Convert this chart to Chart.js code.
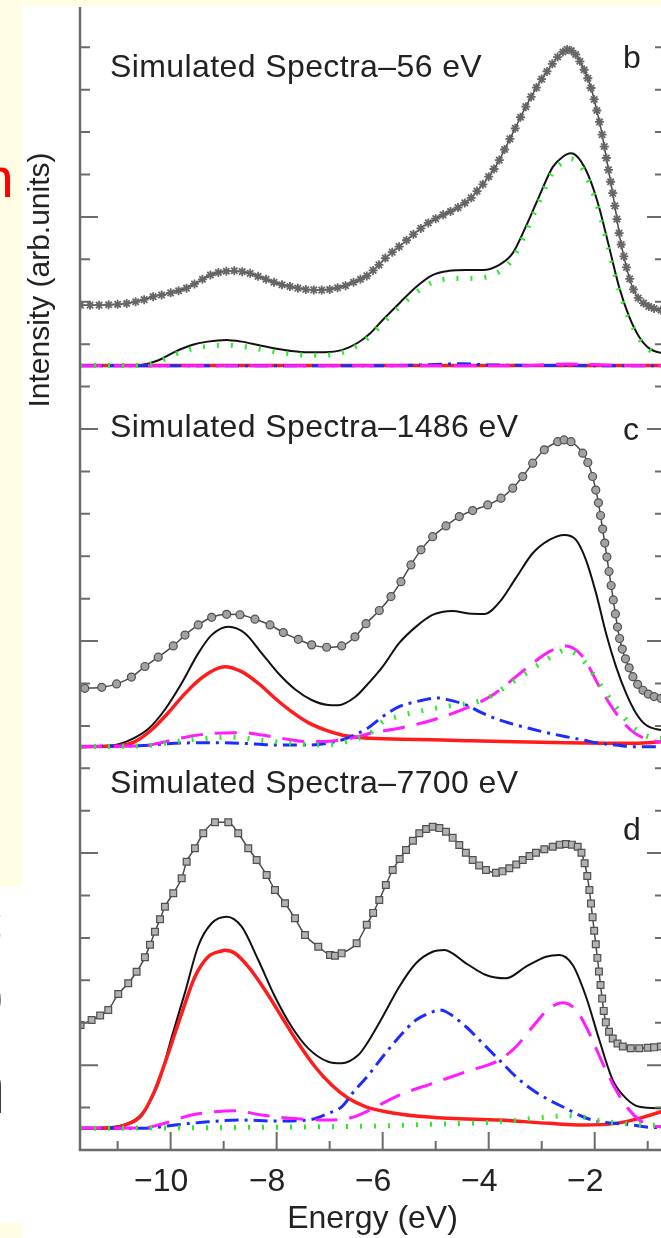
<!DOCTYPE html>
<html>
<head>
<meta charset="utf-8">
<script src="https://cdn.jsdelivr.net/npm/chart.js@4.4.0/dist/chart.umd.min.js"></script>
<style>
  html, body { margin: 0; padding: 0; background: #fff; }
  body { width: 661px; height: 1238px; overflow: hidden; position: relative;
         font-family: "Liberation Sans", Arial, sans-serif; color: #222; }
  #wrap { position: absolute; left: 0; top: 0; width: 680px; height: 1238px; }
  .lbl { position: absolute; white-space: nowrap; line-height: 1; z-index: 3; }
  .title { font-size: 32px; letter-spacing: 0.4px; left: 110px; }
  .tag { font-size: 32px; left: 623px; }
  .band { position: absolute; background: #fffde3; z-index: 2; }
  .ylab { font-size: 30px; line-height: 30px; width: 260px; height: 30px; text-align: center;
          left: -91.4px; top: 265px; transform: rotate(-90deg); }
  .frag { position: absolute; line-height: 1; z-index: 3; }
</style>
</head>
<body>
<div id="wrap"><canvas id="spectra" width="680" height="1238"></canvas></div>

<div class="band" style="left:0;top:0;width:661px;height:6px;"></div>
<div class="band" style="left:0;top:0;width:22px;height:887px;"></div>
<div class="band" style="left:0;top:1223px;width:22px;height:15px;"></div>

<div class="frag" style="left:-17.5px;top:149.6px;font-size:56px;color:#ff0000;">n</div>
<div class="frag" style="left:-35px;top:882px;font-size:76px;color:#d0d0d0;">c</div>
<div class="frag" style="left:-38.5px;top:956px;font-size:76px;color:#111;">o</div>
<div class="frag" style="left:-36.5px;top:1049px;font-size:76px;color:#111;">n</div>

<div class="lbl ylab">Intensity (arb.units)</div>

<div class="lbl title" style="top:49.9px;">Simulated Spectra–56 eV</div>
<div class="lbl title" style="top:409.9px;">Simulated Spectra–1486 eV</div>
<div class="lbl title" style="top:766px;">Simulated Spectra–7700 eV</div>
<div class="lbl tag" style="top:40.9px;">b</div>
<div class="lbl tag" style="top:412.9px;">c</div>
<div class="lbl tag" style="top:812.9px;">d</div>

<script>
// vertical offsets of the three stacked spectra (arb. units)
const offsetB = 16.49;
const offsetC = 7.51;
const offsetD = -1.49;

const xTickValues = [-10, -8, -6, -4, -2];

// ---- panel b : 56 eV ----
const bGray = [[-11.70,1.43],[-11.52,1.43],[-11.35,1.43],[-11.17,1.44],[-11.00,1.45],[-10.83,1.47],[-10.66,1.51],[-10.50,1.56],[-10.33,1.63],[-10.17,1.67],[-10.00,1.72],[-9.85,1.77],[-9.70,1.83],[-9.55,1.93],[-9.40,2.04],[-9.25,2.14],[-9.10,2.20],[-8.95,2.23],[-8.80,2.24],[-8.65,2.22],[-8.50,2.18],[-8.35,2.11],[-8.20,2.04],[-8.05,1.97],[-7.90,1.91],[-7.75,1.87],[-7.60,1.83],[-7.45,1.80],[-7.30,1.79],[-7.15,1.785],[-7.00,1.80],[-6.85,1.84],[-6.70,1.89],[-6.55,1.97],[-6.42,2.04],[-6.30,2.12],[-6.18,2.25],[-6.07,2.38],[-5.95,2.54],[-5.82,2.68],[-5.69,2.81],[-5.55,2.96],[-5.42,3.10],[-5.28,3.24],[-5.14,3.37],[-5.00,3.47],[-4.86,3.56],[-4.72,3.64],[-4.58,3.73],[-4.45,3.84],[-4.33,3.96],[-4.22,4.12],[-4.11,4.28],[-4.00,4.46],[-3.90,4.64],[-3.80,4.85],[-3.70,5.10],[-3.60,5.35],[-3.50,5.60],[-3.40,5.86],[-3.30,6.11],[-3.20,6.34],[-3.10,6.56],[-3.00,6.76],[-2.90,6.94],[-2.80,7.12],[-2.70,7.28],[-2.60,7.40],[-2.52,7.46],[-2.44,7.43],[-2.36,7.34],[-2.28,7.18],[-2.20,6.98],[-2.13,6.78],[-2.07,6.55],[-2.01,6.28],[-1.96,6.02],[-1.91,5.75],[-1.86,5.45],[-1.82,5.17],[-1.78,4.90],[-1.74,4.62],[-1.70,4.34],[-1.66,4.07],[-1.62,3.77],[-1.58,3.46],[-1.54,3.13],[-1.50,2.86],[-1.45,2.58],[-1.40,2.32],[-1.34,2.05],[-1.27,1.80],[-1.18,1.60],[-1.08,1.48],[-0.98,1.40],[-0.88,1.35],[-0.75,1.31],[-0.64,1.30]];
const bBlack = [[-11.71,0.01],[-10.85,0.01],[-10.55,0.02],[-10.23,0.13],[-9.92,0.33],[-9.60,0.49],[-9.30,0.57],[-8.95,0.61],[-8.66,0.57],[-8.35,0.49],[-8.03,0.41],[-7.72,0.35],[-7.41,0.32],[-7.09,0.32],[-6.77,0.37],[-6.46,0.55],[-6.24,0.76],[-6.00,1.08],[-5.69,1.47],[-5.37,1.86],[-5.06,2.14],[-4.75,2.24],[-4.43,2.26],[-4.11,2.26],[-3.80,2.38],[-3.55,2.65],[-3.30,3.28],[-3.05,3.99],[-2.79,4.69],[-2.60,4.93],[-2.45,5.01],[-2.30,4.89],[-2.11,4.46],[-1.92,3.75],[-1.73,2.81],[-1.54,1.86],[-1.35,1.16],[-1.16,0.68],[-0.97,0.41],[-0.64,0.27]];
const bGreen = [[-11.71,0.01],[-10.55,0.01],[-10.23,0.10],[-9.92,0.27],[-9.60,0.40],[-9.30,0.46],[-8.95,0.49],[-8.66,0.46],[-8.35,0.40],[-8.03,0.33],[-7.72,0.28],[-7.41,0.25],[-7.09,0.25],[-6.77,0.31],[-6.46,0.49],[-6.24,0.70],[-6.00,1.00],[-5.69,1.38],[-5.37,1.73],[-5.06,1.97],[-4.75,2.05],[-4.43,2.06],[-4.11,2.08],[-3.80,2.22],[-3.55,2.52],[-3.30,3.15],[-3.05,3.86],[-2.79,4.57],[-2.60,4.80],[-2.45,4.88],[-2.30,4.77],[-2.11,4.34],[-1.92,3.64],[-1.73,2.71],[-1.54,1.78],[-1.35,1.10],[-1.16,0.64],[-0.97,0.38],[-0.64,0.25]];
const bRed = [[-11.71,0.01],[-8.0,0.01],[-4.0,0.01],[-0.64,0.01]];
const bBlue = [[-11.71,0],[-6.0,0],[-5.0,0.03],[-4.5,0.05],[-4.0,0.02],[-0.64,0]];
const bMagenta = [[-11.71,0],[-3.5,0],[-2.5,0.04],[-1.5,0.01],[-0.64,0]];

// ---- panel c : 1486 eV ----
const cGray = [[-11.62,1.375],[-11.30,1.40],[-11.02,1.48],[-10.74,1.64],[-10.485,1.89],[-10.234,2.11],[-9.951,2.375],[-9.73,2.63],[-9.479,2.87],[-9.226,3.05],[-8.943,3.12],[-8.692,3.11],[-8.409,3.005],[-8.126,2.87],[-7.875,2.69],[-7.592,2.53],[-7.34,2.40],[-7.057,2.344],[-6.774,2.375],[-6.523,2.59],[-6.315,2.90],[-6.064,3.21],[-5.843,3.54],[-5.655,3.89],[-5.466,4.285],[-5.277,4.64],[-5.057,4.95],[-4.806,5.205],[-4.555,5.425],[-4.302,5.566],[-4.019,5.70],[-3.768,5.858],[-3.547,6.094],[-3.358,6.368],[-3.17,6.684],[-2.951,7.0],[-2.698,7.19],[-2.579,7.233],[-2.447,7.19],[-2.226,6.92],[-2.13,6.70],[-2.04,6.37],[-1.98,6.05],[-1.93,5.75],[-1.89,5.45],[-1.85,5.13],[-1.81,4.80],[-1.77,4.47],[-1.73,4.13],[-1.69,3.80],[-1.65,3.46],[-1.61,3.13],[-1.57,2.82],[-1.53,2.55],[-1.48,2.30],[-1.42,2.07],[-1.35,1.86],[-1.28,1.65],[-1.19,1.47],[-1.09,1.33],[-0.99,1.24],[-0.88,1.18],[-0.75,1.14],[-0.62,1.13]];
const cBlack = [[-11.71,0],[-11.05,0.04],[-10.74,0.17],[-10.42,0.42],[-10.11,0.87],[-9.79,1.50],[-9.48,2.20],[-9.23,2.63],[-8.91,2.83],[-8.60,2.675],[-8.28,2.20],[-7.97,1.73],[-7.655,1.354],[-7.34,1.10],[-7.03,0.983],[-6.84,0.975],[-6.52,1.17],[-6.315,1.43],[-6.0,1.887],[-5.69,2.44],[-5.37,2.83],[-5.06,3.106],[-4.68,3.20],[-4.38,3.14],[-4.07,3.13],[-3.80,3.40],[-3.485,3.98],[-3.17,4.56],[-2.857,4.875],[-2.574,4.993],[-2.353,4.875],[-2.164,4.40],[-1.975,3.62],[-1.787,2.675],[-1.598,1.887],[-1.409,1.26],[-1.221,0.79],[-1.032,0.51],[-0.749,0.394],[-0.62,0.38]];
const cRed = [[-11.71,0],[-11.0,0.02],[-10.674,0.12],[-10.358,0.40],[-10.045,0.80],[-9.73,1.25],[-9.415,1.62],[-9.164,1.82],[-8.98,1.887],[-8.66,1.77],[-8.347,1.495],[-8.032,1.142],[-7.717,0.825],[-7.404,0.566],[-7.089,0.394],[-6.774,0.276],[-6.46,0.222],[-6.24,0.198],[-5.3,0.17],[-4.428,0.142],[-3.5,0.115],[-2.542,0.094],[-1.8,0.083],[-1.283,0.080],[-0.97,0.095],[-0.62,0.125]];
const cBlue = [[-11.71,0],[-10.5,0.03],[-9.92,0.08],[-9.30,0.094],[-8.66,0.08],[-8.03,0.04],[-7.40,0.04],[-6.77,0.158],[-6.46,0.316],[-6.30,0.42],[-6.0,0.708],[-5.69,0.943],[-5.37,1.061],[-5.057,1.142],[-4.94,1.149],[-4.806,1.118],[-4.428,0.983],[-4.113,0.788],[-3.80,0.63],[-3.485,0.512],[-3.17,0.41],[-2.857,0.316],[-2.542,0.236],[-2.226,0.158],[-1.913,0.08],[-1.598,0.04],[-1.283,0.0],[-0.62,0.0]];
const cMagenta = [[-11.71,0],[-10.5,0.02],[-10.234,0.08],[-9.604,0.252],[-9.164,0.316],[-8.66,0.33],[-8.283,0.276],[-7.906,0.198],[-7.404,0.118],[-6.90,0.142],[-6.46,0.236],[-6.24,0.316],[-5.687,0.434],[-5.057,0.63],[-4.428,0.906],[-3.925,1.219],[-3.485,1.651],[-3.17,1.967],[-2.857,2.241],[-2.542,2.375],[-2.226,2.123],[-1.913,1.415],[-1.598,0.788],[-1.283,0.354],[-0.97,0.158],[-0.749,0.118],[-0.62,0.11]];
const cGreen = [[-11.71,0],[-10.5,0.02],[-9.919,0.118],[-9.296,0.198],[-8.787,0.222],[-8.347,0.158],[-7.717,0.08],[-7.089,0.04],[-6.46,0.198],[-6.24,0.316],[-6.0,0.583],[-5.69,0.72],[-5.372,0.818],[-4.743,0.96],[-4.113,1.101],[-3.485,1.573],[-2.857,2.092],[-2.542,2.281],[-2.226,2.045],[-1.913,1.495],[-1.598,0.936],[-1.283,0.465],[-0.97,0.229],[-0.749,0.198],[-0.62,0.19]];

// ---- panel d : 7700 eV ----
const dGray = [[-11.70,2.44],[-11.491,2.554],[-11.33,2.66],[-11.177,2.79],[-10.989,3.167],[-10.80,3.42],[-10.642,3.693],[-10.485,4.033],[-10.39,4.33],[-10.296,4.637],[-10.20,4.93],[-10.108,5.226],[-9.951,5.542],[-9.792,5.896],[-9.698,6.288],[-9.542,6.604],[-9.385,6.958],[-9.164,7.217],[-8.913,7.217],[-8.725,6.958],[-8.536,6.604],[-8.377,6.328],[-8.189,5.974],[-8.032,5.62],[-7.843,5.307],[-7.655,4.953],[-7.466,4.559],[-7.215,4.283],[-6.994,4.087],[-6.90,4.07],[-6.774,4.127],[-6.491,4.363],[-6.30,4.80],[-6.18,5.08],[-6.064,5.384],[-5.94,5.74],[-5.811,6.092],[-5.68,6.35],[-5.56,6.564],[-5.43,6.78],[-5.309,6.958],[-5.18,7.06],[-5.057,7.113],[-4.93,7.08],[-4.806,6.995],[-4.68,6.85],[-4.555,6.682],[-4.43,6.50],[-4.302,6.328],[-4.18,6.20],[-4.051,6.092],[-3.862,6.028],[-3.74,6.06],[-3.611,6.132],[-3.48,6.22],[-3.358,6.328],[-3.23,6.42],[-3.108,6.50],[-2.95,6.58],[-2.792,6.642],[-2.66,6.69],[-2.542,6.705],[-2.43,6.69],[-2.321,6.642],[-2.25,6.50],[-2.19,6.25],[-2.14,5.95],[-2.10,5.62],[-2.07,5.30],[-2.04,4.98],[-2.01,4.66],[-1.98,4.34],[-1.95,4.02],[-1.92,3.70],[-1.89,3.38],[-1.86,3.06],[-1.83,2.77],[-1.79,2.50],[-1.73,2.28],[-1.66,2.12],[-1.57,2.00],[-1.47,1.93],[-1.32,1.89],[-1.16,1.89],[-1.00,1.90],[-0.88,1.91],[-0.75,1.93],[-0.62,1.93]];
const dBlack = [[-11.71,0],[-11.177,0.024],[-10.862,0.09],[-10.547,0.34],[-10.234,1.05],[-9.981,2.15],[-9.73,3.20],[-9.479,4.30],[-9.226,4.835],[-8.943,4.991],[-8.66,4.755],[-8.347,3.969],[-8.032,3.104],[-7.717,2.396],[-7.404,1.887],[-7.026,1.571],[-6.774,1.533],[-6.46,1.729],[-6.315,1.965],[-6.0,2.632],[-5.687,3.34],[-5.372,3.892],[-5.057,4.165],[-4.838,4.205],[-4.428,3.892],[-4.051,3.616],[-3.674,3.538],[-3.296,3.811],[-2.919,4.047],[-2.668,4.087],[-2.415,3.851],[-2.164,3.104],[-1.913,2.083],[-1.66,1.139],[-1.409,0.708],[-1.158,0.509],[-0.749,0.472],[-0.62,0.47]];
const dRed = [[-11.71,0],[-11.177,0],[-10.862,0.078],[-10.547,0.314],[-10.296,0.903],[-10.045,1.769],[-9.792,2.712],[-9.542,3.575],[-9.291,4.047],[-9.038,4.182],[-8.98,4.198],[-8.787,4.127],[-8.536,3.811],[-8.221,3.262],[-7.906,2.632],[-7.592,2.005],[-7.277,1.453],[-6.962,1.021],[-6.649,0.708],[-6.315,0.509],[-5.938,0.392],[-5.372,0.29],[-4.743,0.236],[-3.80,0.196],[-2.857,0.118],[-2.226,0.078],[-1.598,0.118],[-1.158,0.236],[-0.749,0.392],[-0.62,0.44]];
const dBlue = [[-11.71,0],[-10.55,0.0],[-9.919,0.078],[-9.291,0.156],[-8.66,0.196],[-8.032,0.172],[-7.404,0.196],[-7.026,0.354],[-6.774,0.509],[-6.523,0.903],[-6.315,1.186],[-6.0,1.689],[-5.687,2.16],[-5.372,2.554],[-5.057,2.75],[-4.938,2.79],[-4.806,2.75],[-4.428,2.396],[-4.113,2.005],[-3.80,1.611],[-3.485,1.217],[-3.17,0.903],[-2.857,0.667],[-2.542,0.472],[-2.226,0.274],[-1.913,0.156],[-1.598,0.118],[-1.283,0.078],[-0.97,0.024],[-0.62,0.02]];
const dMagenta = [[-11.71,0],[-10.5,0.01],[-10.234,0.078],[-9.604,0.314],[-9.164,0.392],[-8.787,0.415],[-8.283,0.314],[-7.717,0.236],[-7.089,0.196],[-6.60,0.25],[-6.315,0.39],[-5.687,0.785],[-5.057,1.061],[-4.428,1.335],[-3.80,1.611],[-3.485,1.925],[-3.17,2.396],[-2.857,2.83],[-2.604,2.962],[-2.353,2.79],[-2.101,2.241],[-1.849,1.533],[-1.598,0.903],[-1.347,0.432],[-1.158,0.196],[-0.97,0.078],[-0.749,0.038],[-0.62,0.03]];
const dGreen = [[-11.71,0],[-9.0,0.02],[-7.0,0.04],[-6.0,0.06],[-5.0,0.10],[-4.0,0.14],[-3.4,0.20],[-2.9,0.27],[-2.5,0.30],[-2.2,0.26],[-1.9,0.18],[-1.5,0.12],[-1.1,0.08],[-0.62,0.07]];

// line styles
const styleGreen = { borderColor: '#2ee82e', borderWidth: 5, borderDash: [2, 12] };
const styleRed = { borderColor: '#ff1c1c', borderWidth: 3.5 };
const styleMagenta = { borderColor: '#ff1cff', borderWidth: 3, borderDash: [22, 12] };
const styleBlue = { borderColor: '#1c2cff', borderWidth: 3, borderDash: [14, 6, 3, 6] };
const styleBlack = { borderColor: '#111111', borderWidth: 2 };
const styleGrayB = { borderColor: '#4a4a4a', borderWidth: 1.5, pointStyle: 'star', pointRadius: 4.5,
                     pointBorderColor: '#666', pointBorderWidth: 1.8 };
const styleGrayC = { borderColor: '#4a4a4a', borderWidth: 1.5, pointStyle: 'circle', pointRadius: 4,
                     pointBackgroundColor: '#a2a2a2', pointBorderColor: '#505050', pointBorderWidth: 1.2 };
const styleGrayD = { borderColor: '#4a4a4a', borderWidth: 1.5, pointStyle: 'rect', pointRadius: 4.8,
                     pointBackgroundColor: '#b2b2b2', pointBorderColor: '#505050', pointBorderWidth: 1.2 };

function series(points, offset, style) {
    return Object.assign({
        data: points.map(p => ({ x: p[0], y: p[1] + offset })),
        pointRadius: 0,
        fill: false,
        cubicInterpolationMode: 'monotone'
    }, style);
}

// first dataset ends up on top; red sits under the dashed components
const datasets = [
    series(bGreen, offsetB, styleGreen), series(bMagenta, offsetB, styleMagenta),
    series(bBlue, offsetB, styleBlue), series(bRed, offsetB, styleRed),
    series(bBlack, offsetB, styleBlack), series(bGray, offsetB, styleGrayB),

    series(cGreen, offsetC, styleGreen), series(cMagenta, offsetC, styleMagenta),
    series(cBlue, offsetC, styleBlue), series(cRed, offsetC, styleRed),
    series(cBlack, offsetC, styleBlack), series(cGray, offsetC, styleGrayC),

    series(dGreen, offsetD, styleGreen), series(dMagenta, offsetD, styleMagenta),
    series(dBlue, offsetD, styleBlue), series(dRed, offsetD, styleRed),
    series(dBlack, offsetD, styleBlack), series(dGray, offsetD, styleGrayD)
];

// frame with inward ticks on left, right and bottom
const framePlugin = {
    id: 'frame',
    afterDatasetsDraw(chart) {
        const { ctx, chartArea: a, scales: { x, y } } = chart;
        ctx.save();
        ctx.strokeStyle = '#6c6c6c';
        ctx.lineWidth = 2;
        ctx.beginPath();
        for (let v = Math.ceil(y.min) + 1; v <= y.max; v++) {
            const py = y.getPixelForValue(v);
            const len = v % 5 === 0 ? 18 : 10;
            ctx.moveTo(a.left, py); ctx.lineTo(a.left + len, py);
            ctx.moveTo(a.right, py); ctx.lineTo(a.right - len, py);
        }
        for (let e = Math.ceil(x.min); e <= x.max; e++) {
            const px = x.getPixelForValue(e);
            const len = e % 2 === 0 ? 18 : 9;
            ctx.moveTo(px, a.bottom); ctx.lineTo(px, a.bottom - len);
        }
        ctx.stroke();

        ctx.lineWidth = 2.5;
        ctx.beginPath();
        ctx.moveTo(a.left, a.top);
        ctx.lineTo(a.left, a.bottom);
        ctx.lineTo(a.right, a.bottom);
        ctx.lineTo(a.right, a.top);
        ctx.stroke();
        ctx.restore();
    }
};

new Chart(document.getElementById('spectra').getContext('2d'), {
    type: 'line',
    data: { datasets: datasets },
    options: {
        responsive: false,
        animation: false,
        devicePixelRatio: 1,
        layout: { padding: { left: 80, right: 15, top: 7, bottom: 0 } },
        plugins: { legend: { display: false }, tooltip: { enabled: false } },
        scales: {
            x: {
                type: 'linear',
                min: -11.71,
                max: -0.674,
                grid: { display: false },
                border: { display: false },
                afterBuildTicks: scale => { scale.ticks = xTickValues.map(v => ({ value: v })); },
                afterFit: scale => { scale.height = 88; },
                ticks: {
                    autoSkip: false,
                    maxRotation: 0,
                    padding: 5,
                    labelOffset: -9.5,
                    color: '#222',
                    font: { family: 'Liberation Sans', size: 32 },
                    callback: v => (v < 0 ? '\u2212' : '') + Math.abs(v)
                },
                title: {
                    display: true,
                    text: 'Energy (eV)',
                    color: '#222',
                    padding: { top: 0, bottom: 0 },
                    font: { family: 'Liberation Sans', size: 32 }
                }
            },
            y: {
                type: 'linear',
                display: false,
                min: -2.0,
                max: 24.95
            }
        }
    },
    plugins: [framePlugin]
});
</script>
</body>
</html>
